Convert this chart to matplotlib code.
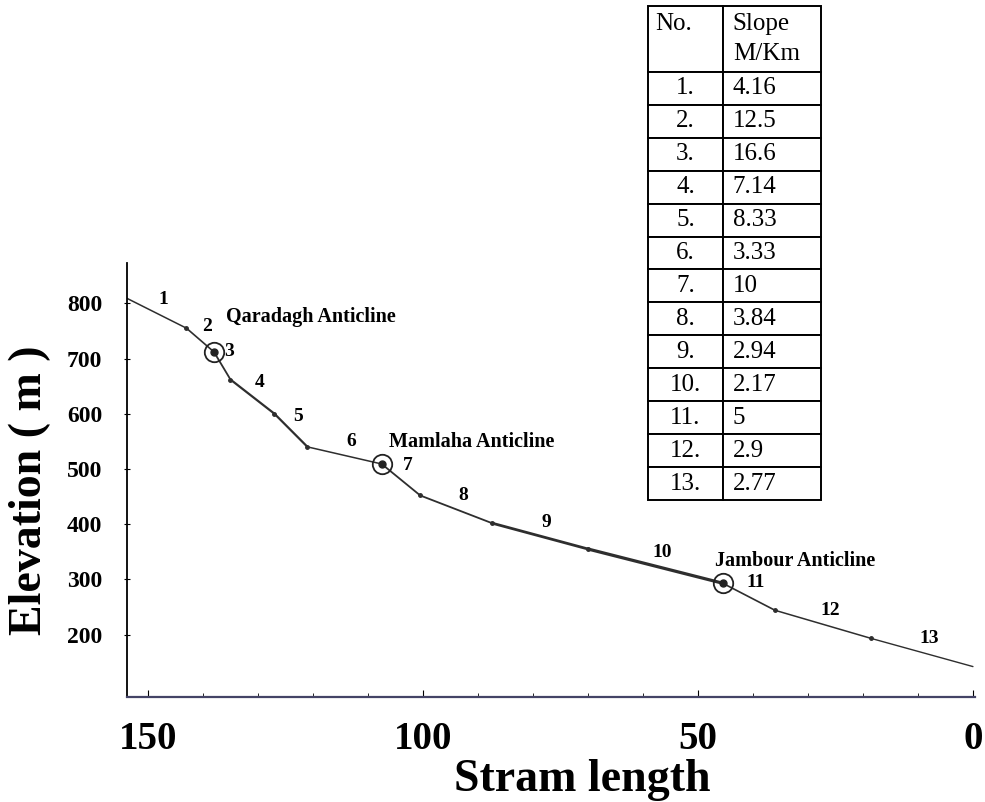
import matplotlib.pyplot as plt
from matplotlib.ticker import MultipleLocator

plt.rcParams['font.family'] = ['Liberation Serif', 'DejaVu Serif']

# stream profile: distance from mouth (km) and elevation (m) at each bend
dist = [154, 143, 138, 135, 127, 121, 107.5, 100.5, 87.5, 70, 45.5, 36, 18.5, 0]
elev = [810, 755, 712, 662, 600, 540, 509, 452, 402, 355, 293, 244, 193, 142]

# slope table
seg_no = ['1.', '2.', '3.', '4.', '5.', '6.', '7.', '8.', '9.', '10.', '11.', '12.', '13.']
slopes = ['4.16', '12.5', '16.6', '7.14', '8.33', '3.33', '10', '3.84', '2.94',
          '2.17', '5', '2.9', '2.77']

# anticlines crossed by the stream (index of the bend)
anti_names = ['Qaradagh Anticline', 'Mamlaha Anticline', 'Jambour Anticline']
anti_idx = [2, 6, 10]

fig = plt.figure(figsize=(9.85, 8.02), dpi=100)
ax = fig.add_axes([0.129, 0.131, 0.861, 0.541])

seg_lw = [1.1, 1.2, 1.3, 1.6, 1.6, 1.1, 1.3, 1.3, 2.0, 2.3, 1.2, 1.1, 1.0]
for i in range(len(dist) - 1):
    ax.plot(dist[i:i + 2], elev[i:i + 2], color='#2e2e2e', lw=seg_lw[i],
            solid_capstyle='round')
ax.plot(dist[1:-1], elev[1:-1], 'o', color='#2e2e2e', ms=2.5)

# segment numbers at the middle of each segment
for i in range(len(dist) - 1):
    mx = (dist[i] + dist[i + 1]) / 2
    my = (elev[i] + elev[i + 1]) / 2
    ax.annotate(str(i + 1), (mx, my), xytext=(7, 14), textcoords='offset pixels',
                ha='center', va='center', fontsize=14, fontweight='bold')

# anticline circles and names
offs = [(12, 35), (7, 22), (-8, 22)]
for name, k, off in zip(anti_names, anti_idx, offs):
    ax.plot(dist[k], elev[k], 'o', mfc='none', mec='#222222', mew=1.3, ms=14)
    ax.plot(dist[k], elev[k], 'o', color='#222222', ms=5)
    ax.annotate(name, (dist[k], elev[k]), xytext=off, textcoords='offset pixels',
                ha='left', va='center', fontsize=14.5, fontweight='bold')

ax.set_xlim(153.8, -0.4)
ax.set_ylim(87, 873)
ax.spines['top'].set_visible(False)
ax.spines['right'].set_visible(False)
ax.spines['left'].set_linewidth(1.3)
ax.spines['bottom'].set_linewidth(1.6)
ax.spines['bottom'].set_color('#444466')

ax.xaxis.set_major_locator(MultipleLocator(50))
ax.xaxis.set_minor_locator(MultipleLocator(10))
ax.set_yticks([200, 300, 400, 500, 600, 700, 800])
ax.tick_params(axis='x', which='major', direction='in', length=5, pad=17,
               labelsize=28)
ax.tick_params(axis='x', which='minor', direction='in', length=3)
ax.tick_params(axis='y', direction='inout', length=4, pad=16, labelsize=17)
for lab in ax.get_xticklabels() + ax.get_yticklabels():
    lab.set_fontweight('bold')

fig.text(30 / 985, 1 - 490 / 802, 'Elevation ( m )', rotation=90, ha='center',
         va='center', fontsize=33, fontweight='bold')
fig.text(582 / 985, 1 - 780 / 802, 'Stram length', ha='center', va='center',
         fontsize=33, fontweight='bold')

# slope table in the upper right
tax = fig.add_axes([648 / 985, 1 - 500 / 802, 173 / 985, 494 / 802])
tax.axis('off')
rows = [[n, s] for n, s in zip(seg_no, slopes)]
tab = tax.table(cellText=rows, colLabels=['No.\n ', 'Slope\nM/Km'],
                bbox=[0, 0, 1, 1], cellLoc='left', colLoc='left')
tab.auto_set_font_size(False)
for (r, c), cell in tab.get_celld().items():
    cell.set_linewidth(1.4)
    cell.set_height(2.0 if r == 0 else 1.0)
    cell.set_width(75 if c == 0 else 98)
    txt = cell.get_text()
    txt.set_fontsize(18)
    if c == 0 and r > 0:
        txt.set_ha('center')
        cell._loc = 'center'
    if r == 0:
        txt.set_linespacing(1.5)

fig.savefig('out.png', dpi=100)
